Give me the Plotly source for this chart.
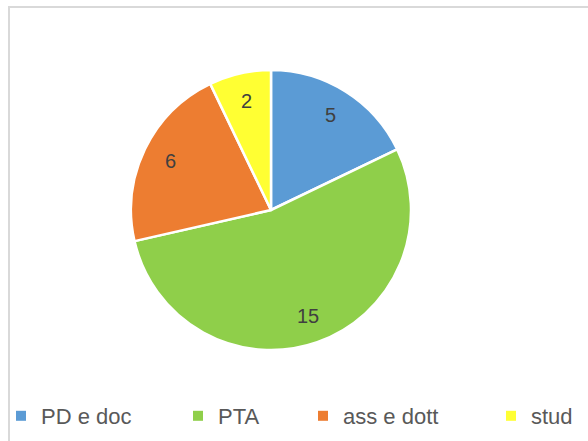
import math
import plotly.graph_objects as go

categories = ["PD e doc", "PTA", "ass e dott", "stud"]
values = [5, 15, 6, 2]
colors = ["#5B9BD5", "#8FCF4A", "#ED7D31", "#FFFF33"]

W, H = 588, 441
cx, cy, R = 271, 210, 140

fig = go.Figure()
fig.add_trace(go.Pie(
    labels=categories, values=values, sort=False, direction="clockwise", rotation=0,
    marker=dict(colors=colors, line=dict(color="white", width=2.5)),
    textinfo="none",
    domain=dict(x=[(cx - R) / W, (cx + R) / W], y=[(H - cy - R) / H, (H - cy + R) / H]),
    showlegend=False, hoverinfo="label+value",
))

# data labels placed along each slice's mid-angle (derived from the values)
total = sum(values)
annotations = []
cum = 0
for v in values:
    mid = (cum + v / 2) / total * 2 * math.pi
    cum += v
    px = cx + 0.8 * R * math.sin(mid)
    py = cy - 0.8 * R * math.cos(mid)
    annotations.append(dict(
        x=px / W, y=1 - py / H, xref="paper", yref="paper", text=str(v),
        showarrow=False, xanchor="center", yanchor="middle",
        font=dict(family="Liberation Sans", size=20, color="#404040"),
    ))

legend_x = [1, 178, 303, 491]
legend_names = ["legend", "legend2", "legend3", "legend4"]
for name, cat, col in zip(legend_names, categories, colors):
    fig.add_trace(go.Scatter(
        x=[None], y=[None], mode="markers", name=cat,
        marker=dict(symbol="square", size=10, color=col),
        legend=name, showlegend=True, hoverinfo="skip",
    ))

layout_legends = {}
for name, lx in zip(legend_names, legend_x):
    layout_legends[name] = dict(
        x=lx / W, y=1 - 416 / H, xref="container", yref="container",
        xanchor="left", yanchor="middle", orientation="h",
        bgcolor="rgba(0,0,0,0)", borderwidth=0,
        font=dict(family="Liberation Sans", size=22, color="#595959"),
        itemclick=False, itemdoubleclick=False,
    )

fig.update_layout(
    width=W, height=H, margin=dict(l=0, r=0, t=0, b=0, autoexpand=False),
    paper_bgcolor="white", plot_bgcolor="white",
    xaxis=dict(visible=False), yaxis=dict(visible=False),
    annotations=annotations,
    **layout_legends,
    shapes=[dict(type="rect", xref="paper", yref="paper",
                 x0=9 / W, x1=1.05, y0=-0.05, y1=1 - 7 / H,
                 line=dict(color="#D9D9D9", width=2), fillcolor="rgba(0,0,0,0)", layer="below")],
)

fig.write_html("out.html", config={"displayModeBar": False},
               post_script="document.body.style.margin='0';")
